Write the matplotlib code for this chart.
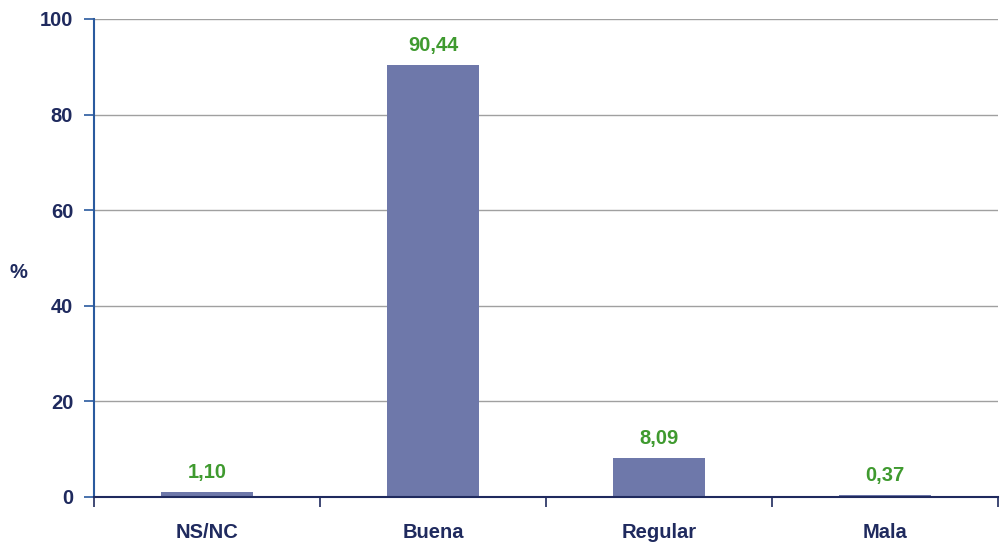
import matplotlib
matplotlib.use("Agg")
import matplotlib.pyplot as plt
import numpy as np

# --- Data ---
categories = ["NS/NC", "Buena", "Regular", "Mala"]
values = [1.10, 90.44, 8.09, 0.37]
value_labels = ["1,10", "90,44", "8,09", "0,37"]
y_ticks = [0, 20, 40, 60, 80, 100]

BAR_COLOR = "#6e78aa"
LABEL_COLOR = "#3f9a2f"
TEXT_COLOR = "#1f2a5e"
YAXIS_COLOR = "#2a5a9e"
GRID_COLOR = "#a0a0a0"

plt.rcParams["font.family"] = ["Liberation Sans", "DejaVu Sans"]
FS = 14.5

fig = plt.figure(figsize=(10.04, 5.44), dpi=100)
ax = fig.add_axes([94 / 1004, 1 - 497 / 544, (998 - 94) / 1004, (497 - 19) / 544])

x = np.arange(len(categories)) + 0.5
ax.bar(x, values, width=0.41, color=BAR_COLOR, zorder=3)

for xi, v, lab in zip(x, values, value_labels):
    ax.text(xi, v + 2.1, lab, ha="center", va="bottom", color=LABEL_COLOR,
            fontsize=FS, fontweight="bold")

ax.set_xlim(0, len(categories))
ax.set_ylim(0, 100)
ax.set_yticks(y_ticks)
ax.set_yticklabels([str(t) for t in y_ticks], fontsize=FS, color=TEXT_COLOR, fontweight="bold")
ax.yaxis.grid(True, color=GRID_COLOR, linewidth=1, zorder=0)

# category ticks at boundaries, labels at centres
ax.set_xticks(np.arange(len(categories) + 1))
ax.set_xticklabels([])
ax.set_xticks(x, minor=True)
ax.set_xticklabels(categories, minor=True, fontsize=FS, color=TEXT_COLOR, fontweight="bold")
ax.tick_params(axis="x", which="minor", length=0, pad=19)
ax.tick_params(axis="x", which="major", length=7, width=1.2, color=TEXT_COLOR, direction="out")
ax.tick_params(axis="y", length=7, width=1.2, color=YAXIS_COLOR, pad=8)

for s in ["top", "right"]:
    ax.spines[s].set_visible(False)
ax.spines["left"].set_color(YAXIS_COLOR)
ax.spines["left"].set_linewidth(1.5)
ax.spines["bottom"].set_color(TEXT_COLOR)
ax.spines["bottom"].set_linewidth(1.5)
ax.spines["bottom"].set_zorder(4)

fig.text(18 / 1004, 1 - 272 / 544, "%", ha="center", va="center", fontsize=FS,
         color=TEXT_COLOR, fontweight="bold")

fig.savefig("out.png", dpi=100)
